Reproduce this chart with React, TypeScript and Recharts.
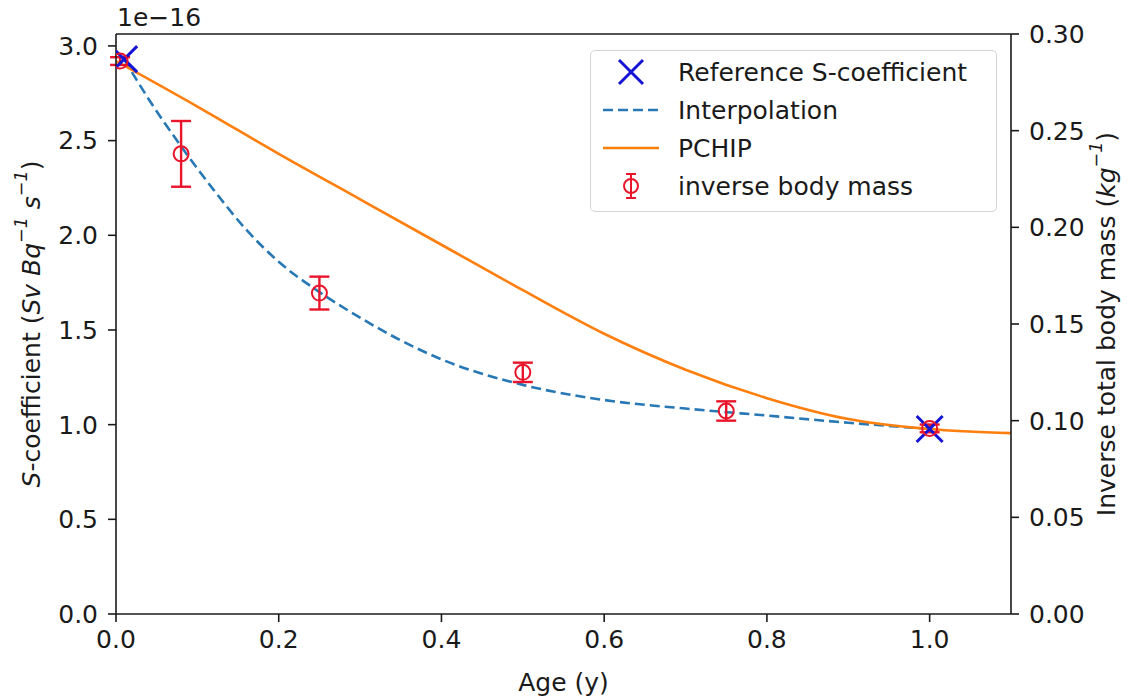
import {
  ComposedChart, ErrorBar, Label, Line, ReferenceLine, Scatter, XAxis, YAxis,
} from "recharts";

const FONT = "DejaVu Sans, Verdana, sans-serif";
const INK = "#1a1a1a";
const FS = 25;

// axis ticks
const AGE_TICKS = [0, 0.2, 0.4, 0.6, 0.8, 1.0];
const S_TICKS = [0, 0.5, 1.0, 1.5, 2.0, 2.5, 3.0];
const MASS_TICKS = [0, 0.05, 0.1, 0.15, 0.2, 0.25, 0.3];

// reference S-coefficients (x 1e-16)
const REF_AGE = [0.01, 1.0];
const REF_S = [2.93, 0.977];

// interpolation (dashed)
const INTERP_AGE = [0.01, 0.04, 0.08, 0.12, 0.16, 0.2, 0.25, 0.3, 0.35, 0.4, 0.5, 0.6, 0.7, 0.8, 0.9, 1.0];
const INTERP_S = [2.93, 2.72, 2.47, 2.24, 2.03, 1.86, 1.7, 1.565, 1.445, 1.345, 1.21, 1.13, 1.085, 1.048, 1.01, 0.977];

// PCHIP (solid orange)
const PCHIP_AGE = [0, 0.1, 0.2, 0.3, 0.4, 0.5, 0.6, 0.7, 0.8, 0.9, 1.0, 1.1];
const PCHIP_S = [2.92, 2.68, 2.43, 2.19, 1.95, 1.71, 1.48, 1.29, 1.14, 1.03, 0.977, 0.955];

// inverse body mass (right axis, kg^-1)
const MASS_AGE = [0.005, 0.08, 0.25, 0.5, 0.75, 1.0];
const MASS_INV = [0.286, 0.238, 0.166, 0.125, 0.105, 0.096];
const MASS_ERR = [0.002, 0.017, 0.0085, 0.005, 0.005, 0.002];

const refData = REF_AGE.map((x, i) => ({ x, y: REF_S[i] }));
const interpData = INTERP_AGE.map((x, i) => ({ x, y: INTERP_S[i] }));
const pchipData = PCHIP_AGE.map((x, i) => ({ x, y: PCHIP_S[i] }));
const massData = MASS_AGE.map((x, i) => ({ x, y: MASS_INV[i], err: MASS_ERR[i] }));

const BLUE_X = "#1414d6";
const DASH = "#2878b5";
const ORANGE = "#ff7f0e";
const RED = "#e8152b";

const tick = { fontSize: FS, fontFamily: FONT, fill: INK };
const axisStroke = { stroke: INK, strokeWidth: 1.6 };

function XMark(props: any) {
  const { cx, cy } = props;
  const r = 13;
  return (
    <path d={`M${cx - r},${cy - r}L${cx + r},${cy + r}M${cx - r},${cy + r}L${cx + r},${cy - r}`}
      stroke={BLUE_X} strokeWidth={3} fill="none" />
  );
}

function Ring(props: any) {
  const { cx, cy } = props;
  return <circle cx={cx} cy={cy} r={7.5} stroke={RED} strokeWidth={2} fill="none" />;
}

const SUP = FS * 0.7;

function LeftTitle({ viewBox }: any) {
  const cx = 31;
  const cy = viewBox.y + viewBox.height / 2;
  return (
    <text x={cx} y={cy} transform={`rotate(-90 ${cx} ${cy})`} textAnchor="middle"
      dominantBaseline="central" fontSize={FS} fontFamily={FONT} fill={INK}>
      <tspan fontStyle="italic">S</tspan>-coefficient (<tspan fontStyle="italic">Sv Bq</tspan>
      <tspan fontSize={SUP} dy={-10} fontStyle="italic">−1</tspan>
      <tspan dy={10} fontStyle="italic"> s</tspan>
      <tspan fontSize={SUP} dy={-10} fontStyle="italic">−1</tspan>
      <tspan dy={10}>)</tspan>
    </text>
  );
}

function Exponent({ viewBox }: any) {
  return (
    <text x={viewBox.x + viewBox.width + 1} y={17} dominantBaseline="central"
      fontSize={FS} fontFamily={FONT} fill={INK}>1e−16</text>
  );
}

function RightTitle({ viewBox }: any) {
  const cx = 1106;
  const cy = viewBox.y + viewBox.height / 2;
  return (
    <text x={cx} y={cy} transform={`rotate(-90 ${cx} ${cy})`} textAnchor="middle"
      dominantBaseline="central" fontSize={FS} fontFamily={FONT} fill={INK}>
      Inverse total body mass (<tspan fontStyle="italic">kg</tspan>
      <tspan fontSize={SUP} dy={-10} fontStyle="italic">−1</tspan>
      <tspan dy={10}>)</tspan>
    </text>
  );
}

function BottomTitle({ viewBox }: any) {
  return (
    <text x={viewBox.x + viewBox.width / 2} y={682} textAnchor="middle" dominantBaseline="central"
      fontSize={FS} fontFamily={FONT} fill={INK}>Age (y)</text>
  );
}

function LegendBox() {
  const rows = [
    { label: "Reference S-coefficient", icon: (
      <path d="M18,2L42,26M18,26L42,2" stroke={BLUE_X} strokeWidth={3} fill="none" />
    ) },
    { label: "Interpolation", icon: (
      <line x1={2} x2={58} y1={14} y2={14} stroke={DASH} strokeWidth={2.6} strokeDasharray="10 5" />
    ) },
    { label: "PCHIP", icon: <line x1={2} x2={58} y1={14} y2={14} stroke={ORANGE} strokeWidth={2.6} /> },
    { label: "inverse body mass", icon: (
      <g stroke={RED} strokeWidth={2} fill="none">
        <line x1={30} x2={30} y1={2} y2={26} />
        <line x1={25} x2={35} y1={2} y2={2} />
        <line x1={25} x2={35} y1={26} y2={26} />
        <circle cx={30} cy={14} r={7} />
      </g>
    ) },
  ];
  return (
    <div style={{
      position: "absolute", left: 590, top: 50, width: 407, height: 162, boxSizing: "border-box",
      background: "rgba(255,255,255,0.85)", border: "1.5px solid #d6d6d6", borderRadius: 5,
      fontFamily: FONT, fontSize: FS, color: INK, paddingTop: 2,
    }}>
      {rows.map((r) => (
        <div key={r.label} style={{ display: "flex", alignItems: "center", height: 38 }}>
          <svg width={60} height={28} style={{ marginLeft: 10, marginRight: 17 }}>{r.icon}</svg>
          <span style={{ whiteSpace: "nowrap" }}>{r.label}</span>
        </div>
      ))}
    </div>
  );
}

export default function App() {
  return (
    <div style={{ position: "absolute", left: 0, top: 0, width: 1134, height: 699, background: "#fff" }}>
      <ComposedChart width={1134} height={699} margin={{ top: 34, right: 0, left: 0, bottom: 0 }}>
        <XAxis type="number" dataKey="x" domain={[0, 1.1]} allowDataOverflow ticks={AGE_TICKS}
          tickFormatter={(v: number) => v.toFixed(1)} height={85} tick={tick} tickSize={8} tickMargin={8}
          axisLine={axisStroke} tickLine={axisStroke}>
          <Label content={<BottomTitle />} />
        </XAxis>
        <YAxis yAxisId="left" type="number" domain={[0, 3.063]} allowDataOverflow ticks={S_TICKS}
          tickFormatter={(v: number) => v.toFixed(1)} width={116} tick={tick} tickSize={8} tickMargin={10}
          axisLine={axisStroke} tickLine={axisStroke}>
          <Label content={<LeftTitle />} />
          <Label content={<Exponent />} />
        </YAxis>
        <YAxis yAxisId="right" orientation="right" type="number" domain={[0, 0.3]} allowDataOverflow
          ticks={MASS_TICKS} tickFormatter={(v: number) => v.toFixed(2)} width={123} tick={tick}
          tickSize={8} tickMargin={10} axisLine={axisStroke} tickLine={axisStroke}>
          <Label content={<RightTitle />} />
        </YAxis>
        <ReferenceLine yAxisId="right" y={0.3} stroke={INK} strokeWidth={1.6} />

        <Scatter yAxisId="left" data={refData} dataKey="y" shape={<XMark />} isAnimationActive={false} />
        <Line yAxisId="left" data={interpData} dataKey="y" type="monotone" stroke={DASH} strokeWidth={2.6}
          strokeDasharray="10 5" dot={false} activeDot={false} isAnimationActive={false} />
        <Line yAxisId="left" data={pchipData} dataKey="y" type="monotone" stroke={ORANGE} strokeWidth={2.6}
          dot={false} activeDot={false} isAnimationActive={false} />
        <Scatter yAxisId="right" data={massData} dataKey="y" shape={<Ring />} isAnimationActive={false}>
          <ErrorBar dataKey="err" direction="y" width={10} stroke={RED} strokeWidth={2.4}
            isAnimationActive={false} />
        </Scatter>
      </ComposedChart>
      <LegendBox />
    </div>
  );
}
